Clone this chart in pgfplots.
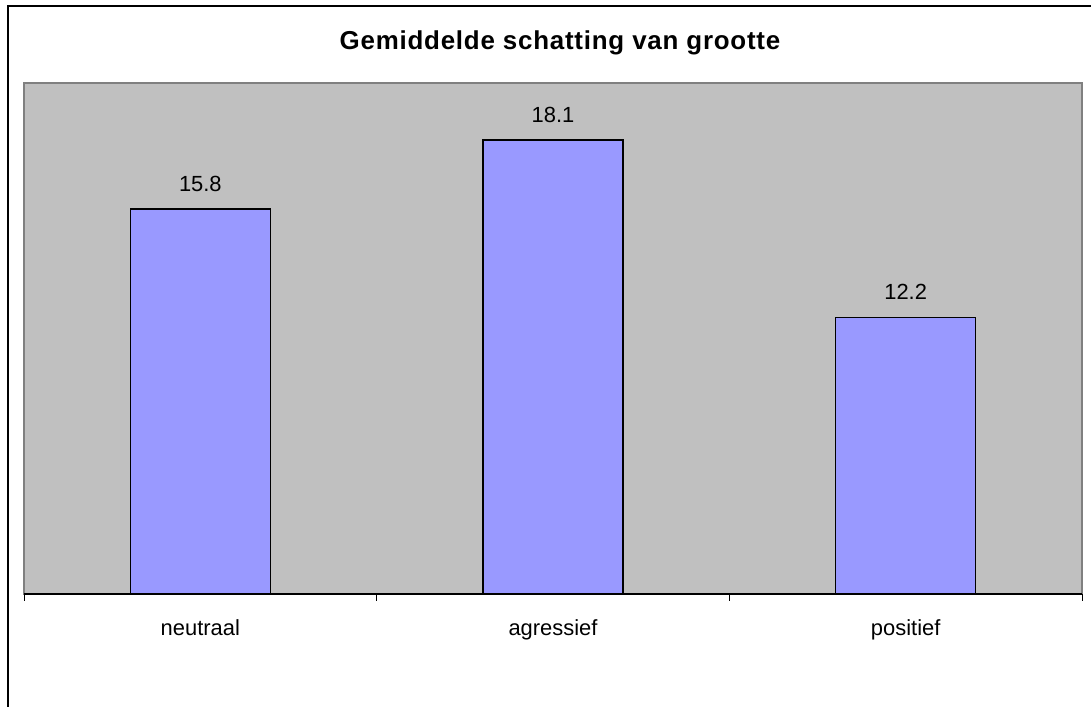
\documentclass[border=0pt]{standalone}
\usepackage{fontspec}
\setmainfont{Liberation Sans}
\newfontfamily\titlefont[LetterSpace=3]{Liberation Sans}
\usepackage{pgfplots}
\pgfplotsset{compat=1.18}
\definecolor{barblue}{HTML}{9999FF}
\definecolor{plotgray}{HTML}{C0C0C0}
\definecolor{bordergray}{HTML}{808080}
\begin{document}
\begin{tikzpicture}[x=1bp,y=1bp]
\useasboundingbox (0,0) rectangle (1091,707);
\draw[line width=2.5bp] (8,-5) -- (8,701) -- (1096,701);
\node[anchor=base, font=\titlefont\bfseries\fontsize{26}{30}\selectfont] at (560,657) {Gemiddelde schatting van grootte};
\begin{axis}[
  at={(24bp,113bp)}, anchor=south west,
  scale only axis, width=1058bp, height=511bp,
  ybar, bar width=140bp,
  xmin=-0.5, xmax=2.5, ymin=3, ymax=20,
  axis x line*=bottom, axis y line=none,
  axis background/.style={fill=plotgray, draw=bordergray, line width=1.5bp},
  x axis line style={black, line width=1.5bp, -},
  xtick={0,1,2}, xticklabels={neutraal,agressief,positief},
  major tick length=0pt,
  minor xtick={-0.5,0.5,1.5,2.5}, minor tick length=7bp, tick align=outside,
  minor tick style={black, line width=1bp},
  xticklabel style={anchor=base, yshift=-42bp, font=\fontsize{22}{26}\selectfont},
  nodes near coords,
  nodes near coords style={anchor=base, yshift=18bp, font=\fontsize{22}{26}\selectfont, text=black},
  /pgf/number format/assume math mode=true,
  /pgf/number format/fixed, /pgf/number format/precision=1,
]
\addplot[fill=barblue, draw=black, line width=1.6bp] coordinates {(0,15.8) (1,18.1) (2,12.2)};
\end{axis}
\end{tikzpicture}
\end{document}
